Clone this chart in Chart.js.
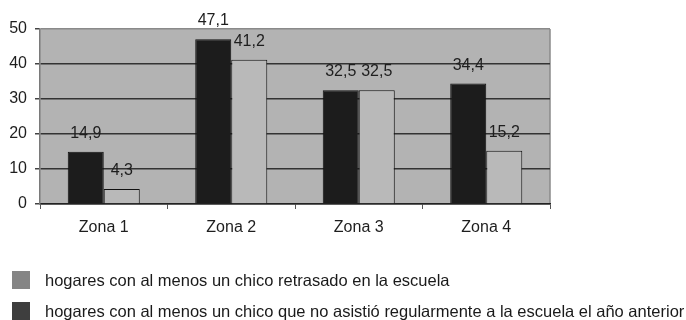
<!DOCTYPE html>
<html lang="es">
<head>
<meta charset="utf-8">
<title>Hogares por zona</title>
<script src="https://cdn.jsdelivr.net/npm/chart.js@4.4.1/dist/chart.umd.min.js"></script>
<style>
    body { margin: 0; background: #fff; }
    #wrap { position: relative; width: 686px; height: 320px; font-family: "Liberation Sans", Arial, sans-serif; }
    #wrap canvas { position: absolute; left: 0; top: 0; }
    #legend { position: absolute; left: 12px; top: 271px; }
    .item { display: flex; align-items: center; height: 18px; margin-bottom: 13px; font-size: 16.5px; color: #1a1a1a; white-space: nowrap; }
    .box { width: 18px; height: 18px; margin-right: 15px; flex: none; }
</style>
</head>
<body>
<div id="wrap">
    <canvas id="zonasChart" width="686" height="320"></canvas>
    <div id="legend"></div>
</div>
<script>
// Datos por zona
const zonas = ['Zona 1', 'Zona 2', 'Zona 3', 'Zona 4'];
const noAsistio = [14.9, 47.1, 32.5, 34.4];
const retrasado = [4.3, 41.2, 32.5, 15.2];
const yTicks = [0, 10, 20, 30, 40, 50];

const labelNoAsistio = 'hogares con al menos un chico que no asistió regularmente a la escuela el año anterior';
const labelRetrasado = 'hogares con al menos un chico retrasado en la escuela';

const FONT = '"Liberation Sans", Arial, sans-serif';

// Fondo gris del área de trazado
const plotBackground = {
    id: 'plotBackground',
    beforeDraw(chart) {
        const { ctx, chartArea: a } = chart;
        ctx.save();
        ctx.fillStyle = '#b3b3b3';
        ctx.fillRect(a.left, a.top, a.right - a.left, a.bottom - a.top);
        ctx.strokeStyle = '#8a8a8a';
        ctx.lineWidth = 1.5;
        ctx.beginPath();
        ctx.moveTo(a.right, a.top);
        ctx.lineTo(a.right, a.bottom);
        ctx.stroke();
        ctx.restore();
    }
};

// Valores encima de cada barra, con coma decimal
const valueLabels = {
    id: 'valueLabels',
    afterDatasetsDraw(chart) {
        const ctx = chart.ctx;
        ctx.save();
        ctx.font = '16px ' + FONT;
        ctx.fillStyle = '#1e1e1e';
        ctx.textAlign = 'center';
        ctx.textBaseline = 'alphabetic';
        chart.data.datasets.forEach((ds, i) => {
            chart.getDatasetMeta(i).data.forEach((bar, j) => {
                const txt = String(ds.data[j]).replace('.', ',');
                ctx.fillText(txt, bar.x, bar.y - 14);
            });
        });
        ctx.restore();
    }
};

const chart = new Chart(document.getElementById('zonasChart'), {
    type: 'bar',
    data: {
        labels: zonas,
        datasets: [
            {
                label: labelNoAsistio,
                data: noAsistio,
                backgroundColor: '#1c1c1c',
                borderColor: '#111',
                borderWidth: 1,
                legendColor: '#3e3e3e'
            },
            {
                label: labelRetrasado,
                data: retrasado,
                backgroundColor: '#b9b9b9',
                borderColor: '#111',
                borderWidth: 1,
                legendColor: '#858585'
            }
        ]
    },
    options: {
        responsive: false,
        animation: false,
        barPercentage: 1,
        categoryPercentage: 0.565,
        layout: { padding: { top: 29, right: 136, left: 0, bottom: 0 } },
        plugins: {
            legend: { display: false },
            tooltip: { enabled: false }
        },
        scales: {
            x: {
                afterFit(scale) { scale.height = 116; },
                grid: {
                    drawOnChartArea: false,
                    tickLength: 5,
                    color: '#555'
                },
                border: { color: '#222', width: 1.5 },
                ticks: {
                    padding: 9,
                    color: '#1e1e1e',
                    font: { family: FONT, size: 16 }
                }
            },
            y: {
                min: 0,
                max: 50,
                afterFit(scale) { scale.width = 40; },
                afterBuildTicks(scale) { scale.ticks = yTicks.map(v => ({ value: v })); },
                grid: {
                    color: ctx => ctx.tick && ctx.tick.value === 50 ? '#8a8a8a' : '#333',
                    lineWidth: 1.5,
                    tickLength: 5,
                    tickColor: '#444'
                },
                border: { color: '#7a7a7a', width: 1.5 },
                ticks: {
                    padding: 8,
                    color: '#1e1e1e',
                    font: { family: FONT, size: 16 }
                }
            }
        }
    },
    plugins: [plotBackground, valueLabels]
});

// Leyenda: primero la serie gris, luego la oscura
const legend = document.getElementById('legend');
chart.data.datasets.slice().reverse().forEach(ds => {
    const item = document.createElement('div');
    item.className = 'item';
    const box = document.createElement('span');
    box.className = 'box';
    box.style.background = ds.legendColor;
    const text = document.createElement('span');
    text.textContent = ds.label;
    item.appendChild(box);
    item.appendChild(text);
    legend.appendChild(item);
});
</script>
</body>
</html>
